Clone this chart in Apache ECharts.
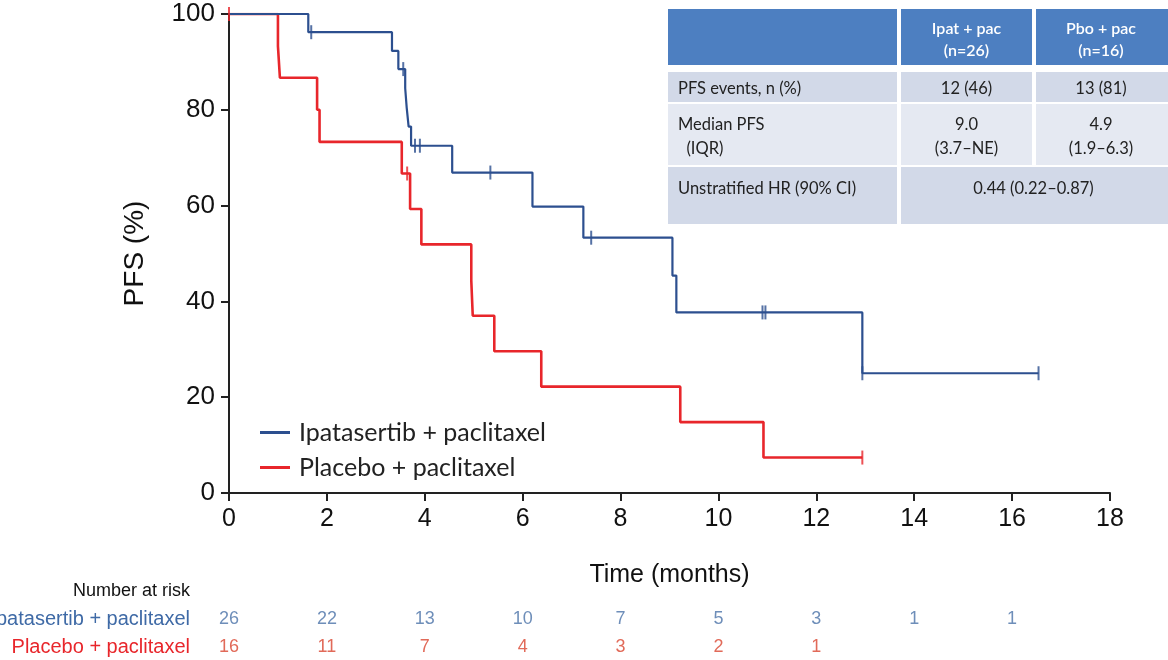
<!DOCTYPE html>
<html>
<head>
<meta charset="utf-8">
<script src="https://cdn.jsdelivr.net/npm/echarts@6/dist/echarts.min.js"></script>
<style>
  html, body { margin: 0; padding: 0; background: #fff; }
  #chart { width: 1168px; height: 660px; }
</style>
</head>
<body>
<div id="chart"></div>
<script>
// KM curves: [months, PFS %] at each drop
const ipatCurve = [
    [0, 100], [1.62, 96.2], [3.33, 92.3], [3.46, 88.5], [3.6, 84.5], [3.63, 80.5],
    [3.67, 76.5], [3.72, 72.5], [4.56, 66.9], [6.2, 59.8], [7.24, 53.3], [9.06, 45.4],
    [9.14, 37.7], [12.94, 25.0], [16.54, 25.0]
];
const pboCurve = [
    [0, 100], [1.0, 93.3], [1.04, 86.7], [1.8, 80.0], [1.85, 73.3], [3.53, 66.7],
    [3.7, 59.3], [3.93, 51.9], [4.95, 44.4], [4.98, 37.0], [5.42, 29.6], [6.38, 22.2],
    [9.22, 14.8], [10.92, 7.4], [12.94, 7.4]
];
// censor ticks
const ipatCensored = [
    [1.68, 96.2], [3.56, 88.5], [3.8, 72.5], [3.9, 72.5], [5.34, 66.9], [7.4, 53.3],
    [10.9, 37.7], [10.96, 37.7], [12.94, 25.0], [16.54, 25.0]
];
const pboCensored = [[0, 100], [3.64, 66.7], [12.94, 7.4]];

const riskTimes = [0, 2, 4, 6, 8, 10, 12, 14, 16];
const ipatRisk = [26, 22, 13, 10, 7, 5, 3, 1, 1];
const pboRisk = [16, 11, 7, 4, 3, 2, 1];

const armNames = ['Ipatasertib + paclitaxel', 'Placebo + paclitaxel'];
const blue = '#2c4f8f';
const red = '#e8262b';

// summary table text
const tableHeader = [['Ipat + pac', '(n=26)'], ['Pbo + pac', '(n=16)']];
const tableRows = [
    { label: ['PFS events, n (%)'], ipat: ['12 (46)'], pbo: ['13 (81)'] },
    { label: ['Median PFS', '  (IQR)'], ipat: ['9.0', '(3.7\u2013NE)'], pbo: ['4.9', '(1.9\u20136.3)'] },
    { label: ['Unstratified HR (90% CI)'], both: ['0.44 (0.22\u20130.87)'] }
];

const tableFont = 'Lato, "Open Sans", sans-serif';

const buildTable = () => {
    const left = 668, c1 = 899, c2 = 1034, right = 1168;
    const rowTops = [72, 104, 167];
    const rowBottoms = [102, 165, 224];
    const rowFill = ['#d2d9e8', '#e5e9f2', '#d2d9e8'];
    const els = [];
    // header
    els.push({ type: 'rect', shape: { x: left, y: 9, width: c1 - left - 2, height: 56 }, style: { fill: '#4d7fc1' } });
    els.push({ type: 'rect', shape: { x: c1 + 2, y: 9, width: c2 - c1 - 4, height: 56 }, style: { fill: '#4d7fc1' } });
    els.push({ type: 'rect', shape: { x: c2 + 2, y: 9, width: right - c2 - 2, height: 56 }, style: { fill: '#4d7fc1' } });
    [(c1 + c2) / 2, (c2 + right) / 2].forEach((cx, i) => {
        els.push({
            type: 'text', x: cx, y: 40,
            style: { text: tableHeader[i].join('\n'), fill: '#fff', font: '600 16px ' + tableFont, align: 'center', verticalAlign: 'middle', lineHeight: 22 }
        });
    });
    tableRows.forEach((row, r) => {
        const top = rowTops[r], h = rowBottoms[r] - top, mid = top + h / 2;
        els.push({ type: 'rect', shape: { x: left, y: top, width: c1 - left - 2, height: h }, style: { fill: rowFill[r] } });
        const lblY = r === 2 ? top + 22 : mid + 2;
        els.push({
            type: 'text', x: left + 10, y: lblY,
            style: { text: row.label.join('\n'), fill: '#222', font: '16.5px ' + tableFont, align: 'left', verticalAlign: 'middle', lineHeight: 24 }
        });
        if (row.both) {
            els.push({ type: 'rect', shape: { x: c1 + 2, y: top, width: right - c1 - 2, height: h }, style: { fill: rowFill[r] } });
            els.push({
                type: 'text', x: (c1 + right) / 2, y: lblY,
                style: { text: row.both.join('\n'), fill: '#222', font: '16.5px ' + tableFont, align: 'center', verticalAlign: 'middle' }
            });
        } else {
            els.push({ type: 'rect', shape: { x: c1 + 2, y: top, width: c2 - c1 - 4, height: h }, style: { fill: rowFill[r] } });
            els.push({ type: 'rect', shape: { x: c2 + 2, y: top, width: right - c2 - 2, height: h }, style: { fill: rowFill[r] } });
            els.push({
                type: 'text', x: (c1 + c2) / 2, y: mid + 2,
                style: { text: row.ipat.join('\n'), fill: '#222', font: '16.5px ' + tableFont, align: 'center', verticalAlign: 'middle', lineHeight: 24 }
            });
            els.push({
                type: 'text', x: (c2 + right) / 2, y: mid + 2,
                style: { text: row.pbo.join('\n'), fill: '#222', font: '16.5px ' + tableFont, align: 'center', verticalAlign: 'middle', lineHeight: 24 }
            });
        }
    });
    els.push({
        type: 'text', x: 190, y: 591,
        style: { text: 'Number at risk', fill: '#111', font: '18px "Liberation Sans Narrow", "Liberation Sans", sans-serif', align: 'right', verticalAlign: 'middle' }
    });
    return els;
};

const axisFont = '"Liberation Sans", Arial, sans-serif';
const narrowFont = '"Liberation Sans Narrow", "Liberation Sans", sans-serif';

const chartOpt = () => ({
    animation: false,
    backgroundColor: '#fff',
    grid: [
        { left: 229, right: 58, top: 14, height: 479, outerBoundsMode: 'none' },
        { left: 229, right: 58, top: 605, height: 56, outerBoundsMode: 'none' }
    ],
    legend: {
        data: armNames,
        icon: 'rect',
        orient: 'vertical',
        left: 255,
        top: 415,
        itemWidth: 30,
        itemHeight: 3,
        itemGap: 10,
        textStyle: { fontSize: 25, color: '#222', fontFamily: tableFont, padding: [0, 0, 0, 4] }
    },
    xAxis: [
        {
            gridIndex: 0, type: 'value', min: 0, max: 18, interval: 2,
            name: 'Time (months)', nameLocation: 'middle', nameGap: 70,
            nameTextStyle: { fontSize: 25, color: '#111', fontFamily: narrowFont },
            axisLine: { onZero: false, lineStyle: { color: '#222', width: 2 } },
            axisTick: { length: 8, lineStyle: { color: '#222', width: 2 } },
            axisLabel: { fontSize: 25, color: '#111', margin: 14, fontFamily: narrowFont },
            splitLine: { show: false }
        },
        {
            gridIndex: 1, type: 'value', min: 0, max: 18, interval: 2, show: false
        }
    ],
    yAxis: [
        {
            gridIndex: 0, type: 'value', min: 0, max: 100, interval: 20,
            name: 'PFS (%)', nameLocation: 'middle', nameGap: 80,
            nameTextStyle: { fontSize: 28, color: '#111', fontFamily: axisFont },
            axisLine: { show: true, lineStyle: { color: '#222', width: 2 } },
            axisTick: { show: true, length: 8, lineStyle: { color: '#222', width: 2 } },
            axisLabel: { fontSize: 26, color: '#111', margin: 14, fontFamily: axisFont },
            splitLine: { show: false }
        },
        {
            gridIndex: 1, type: 'category', inverse: true, data: armNames,
            axisLine: { show: false }, axisTick: { show: false },
            axisLabel: {
                fontSize: 20, margin: 39, fontFamily: narrowFont,
                color: (value, index) => (index === 0 ? '#3f6aa6' : red)
            }
        }
    ],
    series: [
        {
            name: armNames[0], type: 'line', step: 'end', symbol: 'none',
            data: ipatCurve, color: blue, lineStyle: { color: blue, width: 2.2 }, z: 3
        },
        {
            name: armNames[1], type: 'line', step: 'end', symbol: 'none',
            data: pboCurve, color: red, lineStyle: { color: red, width: 2.6 }, z: 2
        },
        {
            name: 'ipat censored', type: 'scatter', symbol: 'rect', symbolSize: [2, 14],
            data: ipatCensored, itemStyle: { color: blue }, z: 4
        },
        {
            name: 'pbo censored', type: 'scatter', symbol: 'rect', symbolSize: [2, 14],
            data: pboCensored, itemStyle: { color: red }, z: 4
        },
        {
            name: 'ipat at risk', type: 'scatter', xAxisIndex: 1, yAxisIndex: 1, symbolSize: 0,
            data: ipatRisk.map((n, i) => [riskTimes[i], 0, n]),
            label: { show: true, position: 'inside', formatter: (p) => p.value[2], color: '#4a72a8', fontSize: 18, fontFamily: narrowFont }
        },
        {
            name: 'pbo at risk', type: 'scatter', xAxisIndex: 1, yAxisIndex: 1, symbolSize: 0,
            data: pboRisk.map((n, i) => [riskTimes[i], 1, n]),
            label: { show: true, position: 'inside', formatter: (p) => p.value[2], color: '#d9452f', fontSize: 18, fontFamily: narrowFont }
        }
    ],
    graphic: buildTable()
});

const chart = echarts.init(document.getElementById('chart'));
chart.setOption(chartOpt());
</script>
</body>
</html>
